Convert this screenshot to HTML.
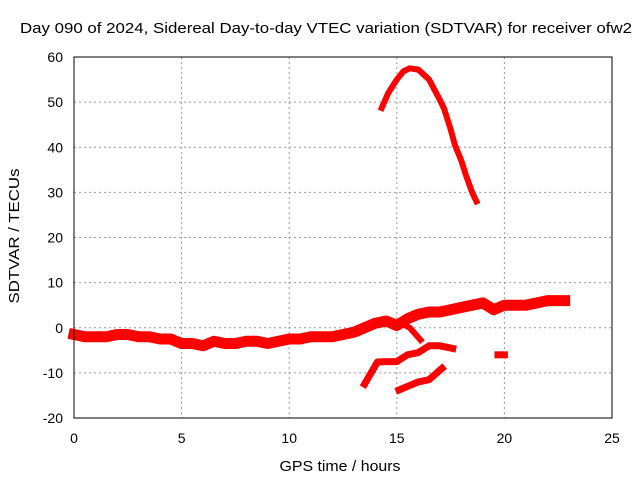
<!DOCTYPE html>
<html><head><meta charset="utf-8"><style>
body{margin:0;background:#fff}
svg{display:block;font-family:"Liberation Sans",sans-serif}
</style></head><body>
<svg id="c" width="640" height="480">
<text x="326" y="33" text-anchor="middle" font-size="15" textLength="612" lengthAdjust="spacingAndGlyphs">Day 090 of 2024, Sidereal Day-to-day VTEC variation (SDTVAR) for receiver ofw2</text>
<text x="340" y="471" text-anchor="middle" font-size="15" textLength="121" lengthAdjust="spacingAndGlyphs">GPS time / hours</text>
<text transform="translate(19,236) rotate(-90)" text-anchor="middle" font-size="15" textLength="135" lengthAdjust="spacingAndGlyphs">SDTVAR / TECUs</text>
<g id="grid"></g><g id="series"></g>
<rect x="74" y="57" width="538" height="361" fill="none" stroke="#000"/>
</svg>
<script>
const xTicks=[0,5,10,15,20,25];
const yTicks=[-20,-10,0,10,20,30,40,50,60];
const mainX=[0,0.5,1,1.5,2,2.5,3,3.5,4,4.5,5,5.5,6,6.5,7,7.5,8,8.5,9,9.5,10,10.5,11,11.5,12,12.5,13,13.5,14,14.5,15,15.5,16,16.5,17,17.5,18,18.5,19,19.5,20,20.5,21,21.5,22,22.5,22.8];
const mainY=[-1.5,-2,-2,-2,-1.5,-1.5,-2,-2,-2.5,-2.5,-3.5,-3.5,-4,-3,-3.5,-3.5,-3,-3,-3.5,-3,-2.5,-2.5,-2,-2,-2,-1.5,-1,0,1,1.5,0.5,2,3,3.5,3.5,4,4.5,5,5.5,4,5,5,5,5.5,6,6,6];
const dipX=[15.2,15.6,16.1];
const dipY=[1,0,-2.7];
const low1X=[13.5,14.1,14.5,15,15.5,16,16.5,17,17.6];
const low1Y=[-12.5,-7.6,-7.5,-7.5,-6,-5.5,-4,-4,-4.6];
const low2X=[15.1,15.5,16,16.5,17.1];
const low2Y=[-13.8,-13,-12,-11.5,-9];
const blobX=[19.7,20.0];
const blobY=[-6,-6];
const arcX=[14.3,14.6,15,15.3,15.6,16,16.5,17,17.2,17.5,17.7,18,18.2,18.5,18.7];
const arcY=[48.7,52,55,56.8,57.5,57.2,55,50.5,48.5,44,40.5,37,34,30,28];
const sx=h=>74+h*538/25, sy=v=>418-(v+20)*361/80;
const NS="http://www.w3.org/2000/svg";
const g=document.getElementById('grid'), s=document.getElementById('series');
xTicks.forEach(t=>{
 const x=sx(t);
 if(t>0&&t<25){const l=document.createElementNS(NS,'line');
 
 
 l.setAttribute('x1',x);l.setAttribute('x2',x);l.setAttribute('y1',57);l.setAttribute('y2',418);
 l.setAttribute('stroke','#999');l.setAttribute('stroke-dasharray','2,3');g.appendChild(l);}
 const tx=document.createElementNS(NS,'text');
 
 
 tx.setAttribute('x',x);tx.setAttribute('y',443);tx.setAttribute('text-anchor','middle');tx.setAttribute('font-size','14');
 tx.textContent=t;g.appendChild(tx);
});
yTicks.forEach(t=>{
 const y=sy(t);
 if(t>-20&&t<60){const l=document.createElementNS(NS,'line');
 
 
 l.setAttribute('x1',74);l.setAttribute('x2',612);l.setAttribute('y1',y);l.setAttribute('y2',y);
 l.setAttribute('stroke','#999');l.setAttribute('stroke-dasharray','2,3');g.appendChild(l);}
 const tx=document.createElementNS(NS,'text');
 
 
 tx.setAttribute('x',63);tx.setAttribute('y',y+5);tx.setAttribute('text-anchor','end');tx.setAttribute('font-size','14');
 tx.textContent=t;g.appendChild(tx);
});
function line(xs,ys,name,w){
 const p=document.createElementNS(NS,'polyline');
 
 
 p.setAttribute('points',xs.map((x,i)=>sx(x)+','+sy(ys[i])).join(' '));
 p.setAttribute('fill','none');p.setAttribute('stroke','#f00');p.setAttribute('stroke-width',w);
 p.setAttribute('stroke-linejoin','round');p.setAttribute('stroke-linecap','square');
 s.appendChild(p);
}
line(mainX,mainY,'main-series',11);
line(dipX,dipY,'dip-series',6);
line(low1X,low1Y,'lower-series-1',7);
line(low2X,low2Y,'lower-series-2',7);
line(blobX,blobY,'blob-series',7);
line(arcX,arcY,'arc-series',6);
</script>
</body></html>
